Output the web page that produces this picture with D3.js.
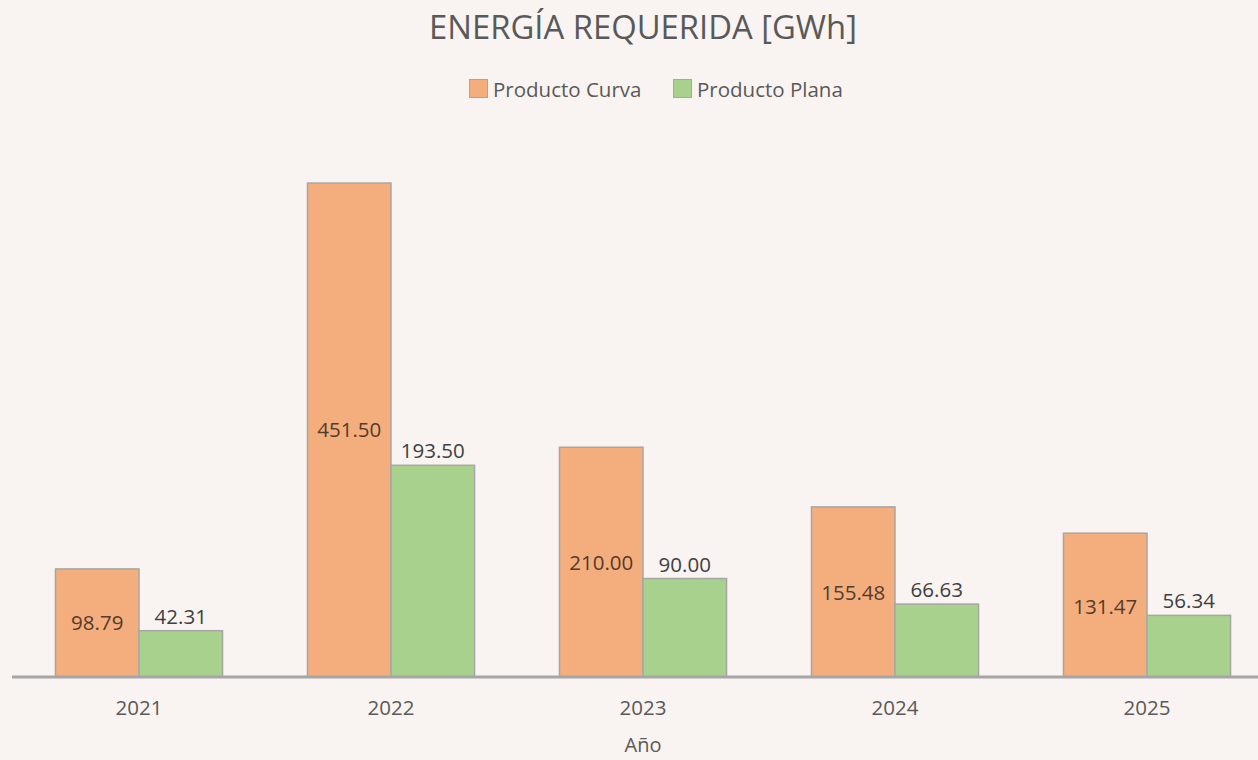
<!DOCTYPE html>
<meta charset="utf-8">
<script src="https://d3js.org/d3.v7.min.js"></script>
<style>
body { margin: 0; background: #f9f4f1; }
</style>
<div id="my_dataviz"></div>
<script>

// data
var years = ["2021", "2022", "2023", "2024", "2025"];
var curva = [98.79, 451.50, 210.00, 155.48, 131.47];
var plana = [42.31, 193.50, 90.00, 66.63, 56.34];
// where the curva labels sit, in GWh units (they were placed by hand in the original)
var curvaLabelAt = [49.4, 225.8, 104.0, 77.0, 64.0];
var seriesNames = ["Producto Curva", "Producto Plana"];

var colors = ["#f4ae7e", "#a9d18e"];
var width = 1258, height = 760;
var font = "'Open Sans', 'Noto Sans', sans-serif";

var svg = d3.select("#my_dataviz")
  .append("svg")
    .attr("width", width)
    .attr("height", height)
    .style("background", "#f9f4f1");

// X axis: one band per year, two bars inside
var x = d3.scaleBand()
  .domain(years)
  .range([13, 1273])
  .paddingInner(0.337)
  .paddingOuter(0.337 / 2);

var xSub = d3.scaleBand()
  .domain([0, 1])
  .range([0, x.bandwidth()]);

var y = d3.scaleLinear()
  .domain([0, 500])
  .range([677, 130]);

// title
svg.append("text")
  .attr("x", 643)
  .attr("y", 39)
  .attr("text-anchor", "middle")
  .attr("font-family", font)
  .style("font-size", "32.8px")
  .attr("fill", "#595959")
  .text("ENERGÍA REQUERIDA [GWh]");

// legend
var legend = svg.append("g").attr("transform", "translate(469,79)");
var legendX = [0, 204];
seriesNames.forEach(function(name, i) {
  legend.append("rect")
    .attr("x", legendX[i] + 0.5)
    .attr("y", 0.5)
    .attr("width", 18)
    .attr("height", 18)
    .attr("fill", colors[i])
    .attr("stroke", "#a6a6a6");
  legend.append("text")
    .attr("x", legendX[i] + 24)
    .attr("y", 18)
    .attr("font-family", font)
    .style("font-size", "20.5px")
    .attr("fill", "#595959")
    .text(name);
});

var rows = years.map(function(yr, i) {
  return {year: yr, vals: [curva[i], plana[i]], labelAt: curvaLabelAt[i]};
});

var groups = svg.selectAll("g.year")
  .data(rows)
  .enter()
  .append("g")
    .attr("class", "year")
    .attr("transform", function(d) { return "translate(" + x(d.year) + ",0)"; });

// bars
groups.selectAll("rect")
  .data(function(d) { return d.vals; })
  .enter()
  .append("rect")
    .attr("x", function(d, i) { return xSub(i); })
    .attr("y", function(d) { return y(d); })
    .attr("width", xSub.bandwidth())
    .attr("height", function(d) { return y(0) - y(d); })
    .attr("fill", function(d, i) { return colors[i]; })
    .attr("stroke", "#a6a6a6")
    .attr("stroke-width", 1.5);

// labels on curva bars
groups.append("text")
  .attr("x", xSub(0) + xSub.bandwidth() / 2)
  .attr("y", function(d) { return y(d.labelAt) + 7; })
  .attr("text-anchor", "middle")
  .attr("font-family", font)
  .style("font-size", "20.5px")
  .attr("fill", "#553b2a")
  .text(function(d) { return d.vals[0].toFixed(2); });

// labels above plana bars
groups.append("text")
  .attr("x", xSub(1) + xSub.bandwidth() / 2)
  .attr("y", function(d) { return y(d.vals[1]) - 7; })
  .attr("text-anchor", "middle")
  .attr("font-family", font)
  .style("font-size", "20.5px")
  .attr("fill", "#404040")
  .text(function(d) { return d.vals[1].toFixed(2); });

// axis line and year labels
var xAxis = svg.append("g")
  .attr("transform", "translate(0," + y(0) + ")")
  .call(d3.axisBottom(x).tickSize(0));
xAxis.select(".domain")
  .attr("d", "M12,0H1258")
  .attr("stroke", "#a6a6a6")
  .attr("stroke-width", 3);
xAxis.selectAll("text")
  .attr("y", 38)
  .attr("dy", 0)
  .attr("font-family", font)
  .style("font-size", "20.5px")
  .attr("fill", "#595959");

svg.append("text")
  .attr("x", 643)
  .attr("y", 752)
  .attr("text-anchor", "middle")
  .attr("font-family", font)
  .style("font-size", "20px")
  .attr("fill", "#595959")
  .text("Año");

</script>
